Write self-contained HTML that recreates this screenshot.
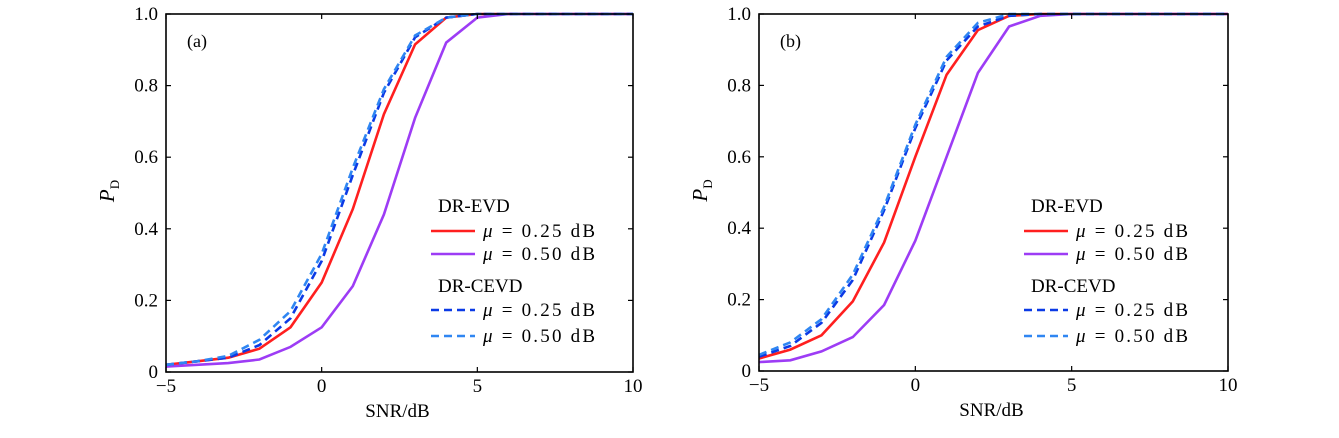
<!DOCTYPE html>
<html><head><meta charset="utf-8"><style>
html,body{margin:0;padding:0;background:#fff}
svg text{font-family:"Liberation Serif",serif;fill:#000}
</style></head><body>
<svg id="chart" width="1339" height="433" xmlns="http://www.w3.org/2000/svg"></svg>
<script>
const snr = [-5,-4,-3,-2,-1,0,1,2,3,4,5,6,7,8,9,10];
const xTicks = [-5,0,5,10];
const xTickLabels = ["\u22125","0","5","10"];
const yTicks = [0,0.2,0.4,0.6,0.8,1.0];
const yTickLabels = ["0","0.2","0.4","0.6","0.8","1.0"];
const aEvd25 = [0.02,0.03,0.04,0.065,0.125,0.25,0.455,0.72,0.915,0.99,1,1,1,1,1,1];
const aEvd50 = [0.015,0.02,0.025,0.035,0.07,0.125,0.24,0.44,0.71,0.92,0.99,1,1,1,1,1];
const aCevd25 = [0.02,0.03,0.04,0.075,0.15,0.31,0.55,0.78,0.935,0.99,1,1,1,1,1,1];
const aCevd50 = [0.02,0.03,0.045,0.09,0.17,0.33,0.57,0.79,0.94,0.99,1,1,1,1,1,1];
const bEvd25 = [0.035,0.06,0.10,0.195,0.36,0.6,0.83,0.955,0.995,1,1,1,1,1,1,1];
const bEvd50 = [0.025,0.03,0.055,0.095,0.185,0.365,0.6,0.835,0.965,0.995,1,1,1,1,1,1];
const bCevd25 = [0.04,0.07,0.135,0.255,0.45,0.68,0.87,0.965,0.995,1,1,1,1,1,1,1];
const bCevd50 = [0.045,0.08,0.145,0.27,0.46,0.69,0.88,0.975,1,1,1,1,1,1,1,1];

const NS="http://www.w3.org/2000/svg";
const svg=document.getElementById('chart');
function mk(tag,attrs,parent){const e=document.createElementNS(NS,tag);for(const k in attrs)e.setAttribute(k,attrs[k]);(parent||svg).appendChild(e);return e;}

function panel(id,L,R,T,B,label,series){
  const g=mk('g',{});
  
  
  const sx=v=>L+(v+5)/15*(R-L);
  const sy=v=>B-v*(B-T);
  series.forEach(s=>{
    const d=snr.map((x,i)=>(i?'L':'M')+sx(x).toFixed(1)+' '+sy(s.v[i]).toFixed(1)).join(' ');
    const p=mk('path',{d:d,fill:'none',stroke:s.c,'stroke-width':2.6,'stroke-dasharray':s.dash?'8 5':'none'},g);
    
    
  });
  const box=mk('rect',{x:L,y:T,width:R-L,height:B-T,fill:'none',stroke:'#000','stroke-width':1.6},g);
  
  
  xTicks.forEach((t,i)=>{
    mk('line',{x1:sx(t),x2:sx(t),y1:B,y2:B-5,stroke:'#000','stroke-width':1.2},g);
    mk('line',{x1:sx(t),x2:sx(t),y1:T,y2:T+5,stroke:'#000','stroke-width':1.2},g);
    const tx=mk('text',{x:sx(t),y:B+20,'text-anchor':'middle','font-size':19},g);
    tx.textContent=xTickLabels[i];
    
    
  });
  yTicks.forEach((t,i)=>{
    mk('line',{x1:L,x2:L+5,y1:sy(t),y2:sy(t),stroke:'#000','stroke-width':1.2},g);
    mk('line',{x1:R,x2:R-5,y1:sy(t),y2:sy(t),stroke:'#000','stroke-width':1.2},g);
    const tx=mk('text',{x:L-8,y:sy(t)+6,'text-anchor':'end','font-size':19},g);
    tx.textContent=yTickLabels[i];
    
    
  });
  const xl=mk('text',{x:(L+R)/2-2,y:B+45,'text-anchor':'middle','font-size':19},g);
  xl.textContent='SNR/dB';
  
  
  const yl=mk('text',{transform:'translate('+(L-52)+','+((B-T)/2+12)+') rotate(-90)','text-anchor':'middle','font-size':21,'font-style':'italic'},g);
  yl.innerHTML='P<tspan font-size="13" font-style="normal" dy="5">D</tspan>';
  
  
  const pl=mk('text',{x:L+21,y:T+33,'font-size':18},g);
  pl.textContent=label;
  
  
  const lx=L+265;
  const lg=mk('g',{},g);
  
  
  const h1=mk('text',{x:lx+7,y:212,'font-size':19},lg);h1.textContent='DR-EVD';
  
  
  const h2=mk('text',{x:lx+7,y:292,'font-size':19},lg);h2.textContent='DR-CEVD';
  
  
  const rows=[[231,series[0]],[254,series[1]],[310,series[2]],[336,series[3]]];
  rows.forEach(([y,s])=>{
    const ln=mk('line',{x1:lx,x2:lx+44,y1:y,y2:y,stroke:s.c,'stroke-width':2.6,'stroke-dasharray':s.dash?'8 5':'none'},lg);
    
    
    const t=mk('text',{x:lx+52,y:y+6,'font-size':19,'textLength':112,'lengthAdjust':'spacing'},lg);
    t.innerHTML='<tspan font-style="italic">\u03bc</tspan> = '+s.lab+' dB';
    
    
  });
}
panel('a',166,633,14,372,'(a)',[
 {v:aEvd25,c:'#ff1f1f',dash:false,name:'line-a-evd-025',lab:'0.25'},
 {v:aEvd50,c:'#9d3cf5',dash:false,name:'line-a-evd-050',lab:'0.50'},
 {v:aCevd25,c:'#0b3ae6',dash:true,name:'line-a-cevd-025',lab:'0.25'},
 {v:aCevd50,c:'#2f86f2',dash:true,name:'line-a-cevd-050',lab:'0.50'}]);
panel('b',759,1228,14,371,'(b)',[
 {v:bEvd25,c:'#ff1f1f',dash:false,name:'line-b-evd-025',lab:'0.25'},
 {v:bEvd50,c:'#9d3cf5',dash:false,name:'line-b-evd-050',lab:'0.50'},
 {v:bCevd25,c:'#0b3ae6',dash:true,name:'line-b-cevd-025',lab:'0.25'},
 {v:bCevd50,c:'#2f86f2',dash:true,name:'line-b-cevd-050',lab:'0.50'}]);
</script>
</body></html>
